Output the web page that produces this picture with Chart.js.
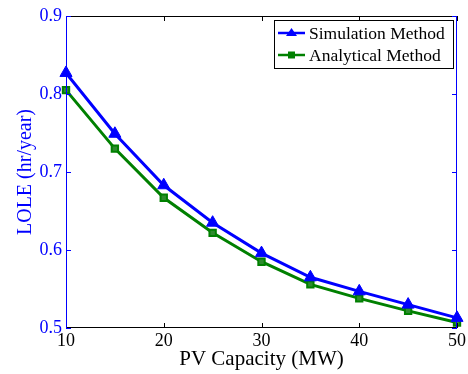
<!DOCTYPE html>
<html>
<head>
<meta charset="utf-8">
<script src="https://cdn.jsdelivr.net/npm/chart.js@4.4.0/dist/chart.umd.min.js"></script>
<style>
  body { margin: 0; background: #fff; }
  #wrap { width: 468px; height: 374px; position: relative; }
</style>
</head>
<body>
<div id="wrap"><canvas id="myChart"></canvas></div>
<script>
// PV capacity in MW
var pvCapacity = [10, 15, 20, 25, 30, 35, 40, 45, 50]
// LOLE values (hr/year)
var simulationLole = [0.827, 0.749, 0.683, 0.635, 0.596, 0.565, 0.547, 0.530, 0.513]
var analyticalLole = [0.805, 0.730, 0.667, 0.622, 0.585, 0.556, 0.538, 0.522, 0.507]
var xTicks = [10, 20, 30, 40, 50]
var yTicks = [0.5, 0.6, 0.7, 0.8, 0.9]

var serif = '"Liberation Serif", "Times New Roman", serif'

function toPoints(vals) {
    return pvCapacity.map((x, i) => ({ x: x, y: vals[i] }))
}

// draws the frame, inward ticks and the boxed legend
var framePlugin = {
    id: 'frame',
    afterDatasetsDraw(chart) {
        var ctx = chart.ctx
        var a = chart.chartArea
        var xs = chart.scales.x
        var ys = chart.scales.y
        var t = 5
        ctx.save()
        ctx.lineWidth = 1
        // top + bottom
        ctx.strokeStyle = '#000'
        ctx.beginPath()
        ctx.moveTo(a.left, a.top + 0.5); ctx.lineTo(a.right, a.top + 0.5)
        ctx.moveTo(a.left, a.bottom - 0.5); ctx.lineTo(a.right, a.bottom - 0.5)
        xTicks.forEach(v => {
            var px = Math.round(xs.getPixelForValue(v)) + 0.5
            ctx.moveTo(px, a.bottom); ctx.lineTo(px, a.bottom - t)
            ctx.moveTo(px, a.top); ctx.lineTo(px, a.top + t)
        })
        ctx.stroke()
        // left + right
        ctx.strokeStyle = '#0000ff'
        ctx.beginPath()
        ctx.moveTo(a.left + 0.5, a.top); ctx.lineTo(a.left + 0.5, a.bottom)
        ctx.moveTo(a.right - 0.5, a.top); ctx.lineTo(a.right - 0.5, a.bottom)
        yTicks.forEach(v => {
            var py = Math.round(ys.getPixelForValue(v)) + 0.5
            ctx.moveTo(a.left, py); ctx.lineTo(a.left + t, py)
            ctx.moveTo(a.right, py); ctx.lineTo(a.right - t, py)
        })
        ctx.stroke()

        // legend box
        var bx = a.right - 183, by = a.top + 4, bw = 179, bh = 48
        ctx.fillStyle = '#fff'
        ctx.fillRect(bx, by, bw, bh)
        ctx.strokeStyle = '#000'
        ctx.strokeRect(bx + 0.5, by + 0.5, bw, bh)
        ctx.font = '17.5px ' + serif
        ctx.textBaseline = 'middle'
        chart.data.datasets.forEach((ds, i) => {
            var cy = by + 13 + i * 22
            ctx.strokeStyle = ds.borderColor
            ctx.lineWidth = 2.5
            ctx.beginPath()
            ctx.moveTo(bx + 4, cy); ctx.lineTo(bx + 31, cy)
            ctx.stroke()
            ctx.fillStyle = ds.borderColor
            if (ds.pointStyle === 'triangle') {
                ctx.beginPath()
                ctx.moveTo(bx + 17.5, cy - 5); ctx.lineTo(bx + 23, cy + 3); ctx.lineTo(bx + 12, cy + 3)
                ctx.closePath(); ctx.fill()
            } else {
                ctx.fillRect(bx + 14, cy - 3.5, 7, 7)
            }
            ctx.fillStyle = '#000'
            ctx.fillText(ds.label, bx + 35, cy + 1)
        })
        ctx.restore()
    }
}

var ctx = document.getElementById('myChart').getContext('2d')
var myChart = new Chart(ctx, {
    type: 'line',
    data: {
        datasets: [{
            label: 'Simulation Method',
            data: toPoints(simulationLole),
            borderColor: '#0000ff',
            backgroundColor: '#0000ff',
            borderWidth: 3,
            pointStyle: 'triangle',
            pointRadius: 7,
            pointBorderWidth: 1,
            tension: 0
        }, {
            label: 'Analytical Method',
            data: toPoints(analyticalLole),
            borderColor: '#008000',
            backgroundColor: '#2e8b2e',
            borderWidth: 3,
            pointStyle: 'rect',
            pointRadius: 4.5,
            pointBorderWidth: 2,
            tension: 0
        }]
    },
    options: {
        responsive: true,
        maintainAspectRatio: false,
        animation: false,
        clip: false,
        layout: { padding: { top: 16, right: 9, left: 14, bottom: 2 } },
        plugins: {
            legend: { display: false },
            tooltip: { enabled: false }
        },
        scales: {
            x: {
                type: 'linear',
                min: 10,
                max: 50,
                afterBuildTicks: s => { s.ticks = xTicks.map(v => ({ value: v })) },
                afterFit: s => { s.height = 44 },
                grid: { display: false, drawTicks: false },
                border: { display: false },
                ticks: {
                    color: '#000',
                    padding: 2,
                    font: { family: serif, size: 18 },
                    maxRotation: 0
                },
                title: {
                    display: true,
                    text: 'PV Capacity (MW)',
                    color: '#000',
                    padding: { top: 0, bottom: 0 },
                    font: { family: serif, size: 21 }
                }
            },
            y: {
                min: 0.5,
                max: 0.9,
                afterBuildTicks: s => { s.ticks = yTicks.map(v => ({ value: v })) },
                afterFit: s => { s.width = 52 },
                grid: { display: false, drawTicks: false },
                border: { display: false },
                ticks: {
                    color: '#0000ff',
                    padding: 4,
                    font: { family: serif, size: 18 },
                    callback: v => v.toFixed(1)
                },
                title: {
                    display: true,
                    text: 'LOLE (hr/year)',
                    color: '#0000ff',
                    padding: { top: 0, bottom: 0 },
                    font: { family: serif, size: 20 }
                }
            }
        }
    },
    plugins: [framePlugin]
})
</script>
</body>
</html>
